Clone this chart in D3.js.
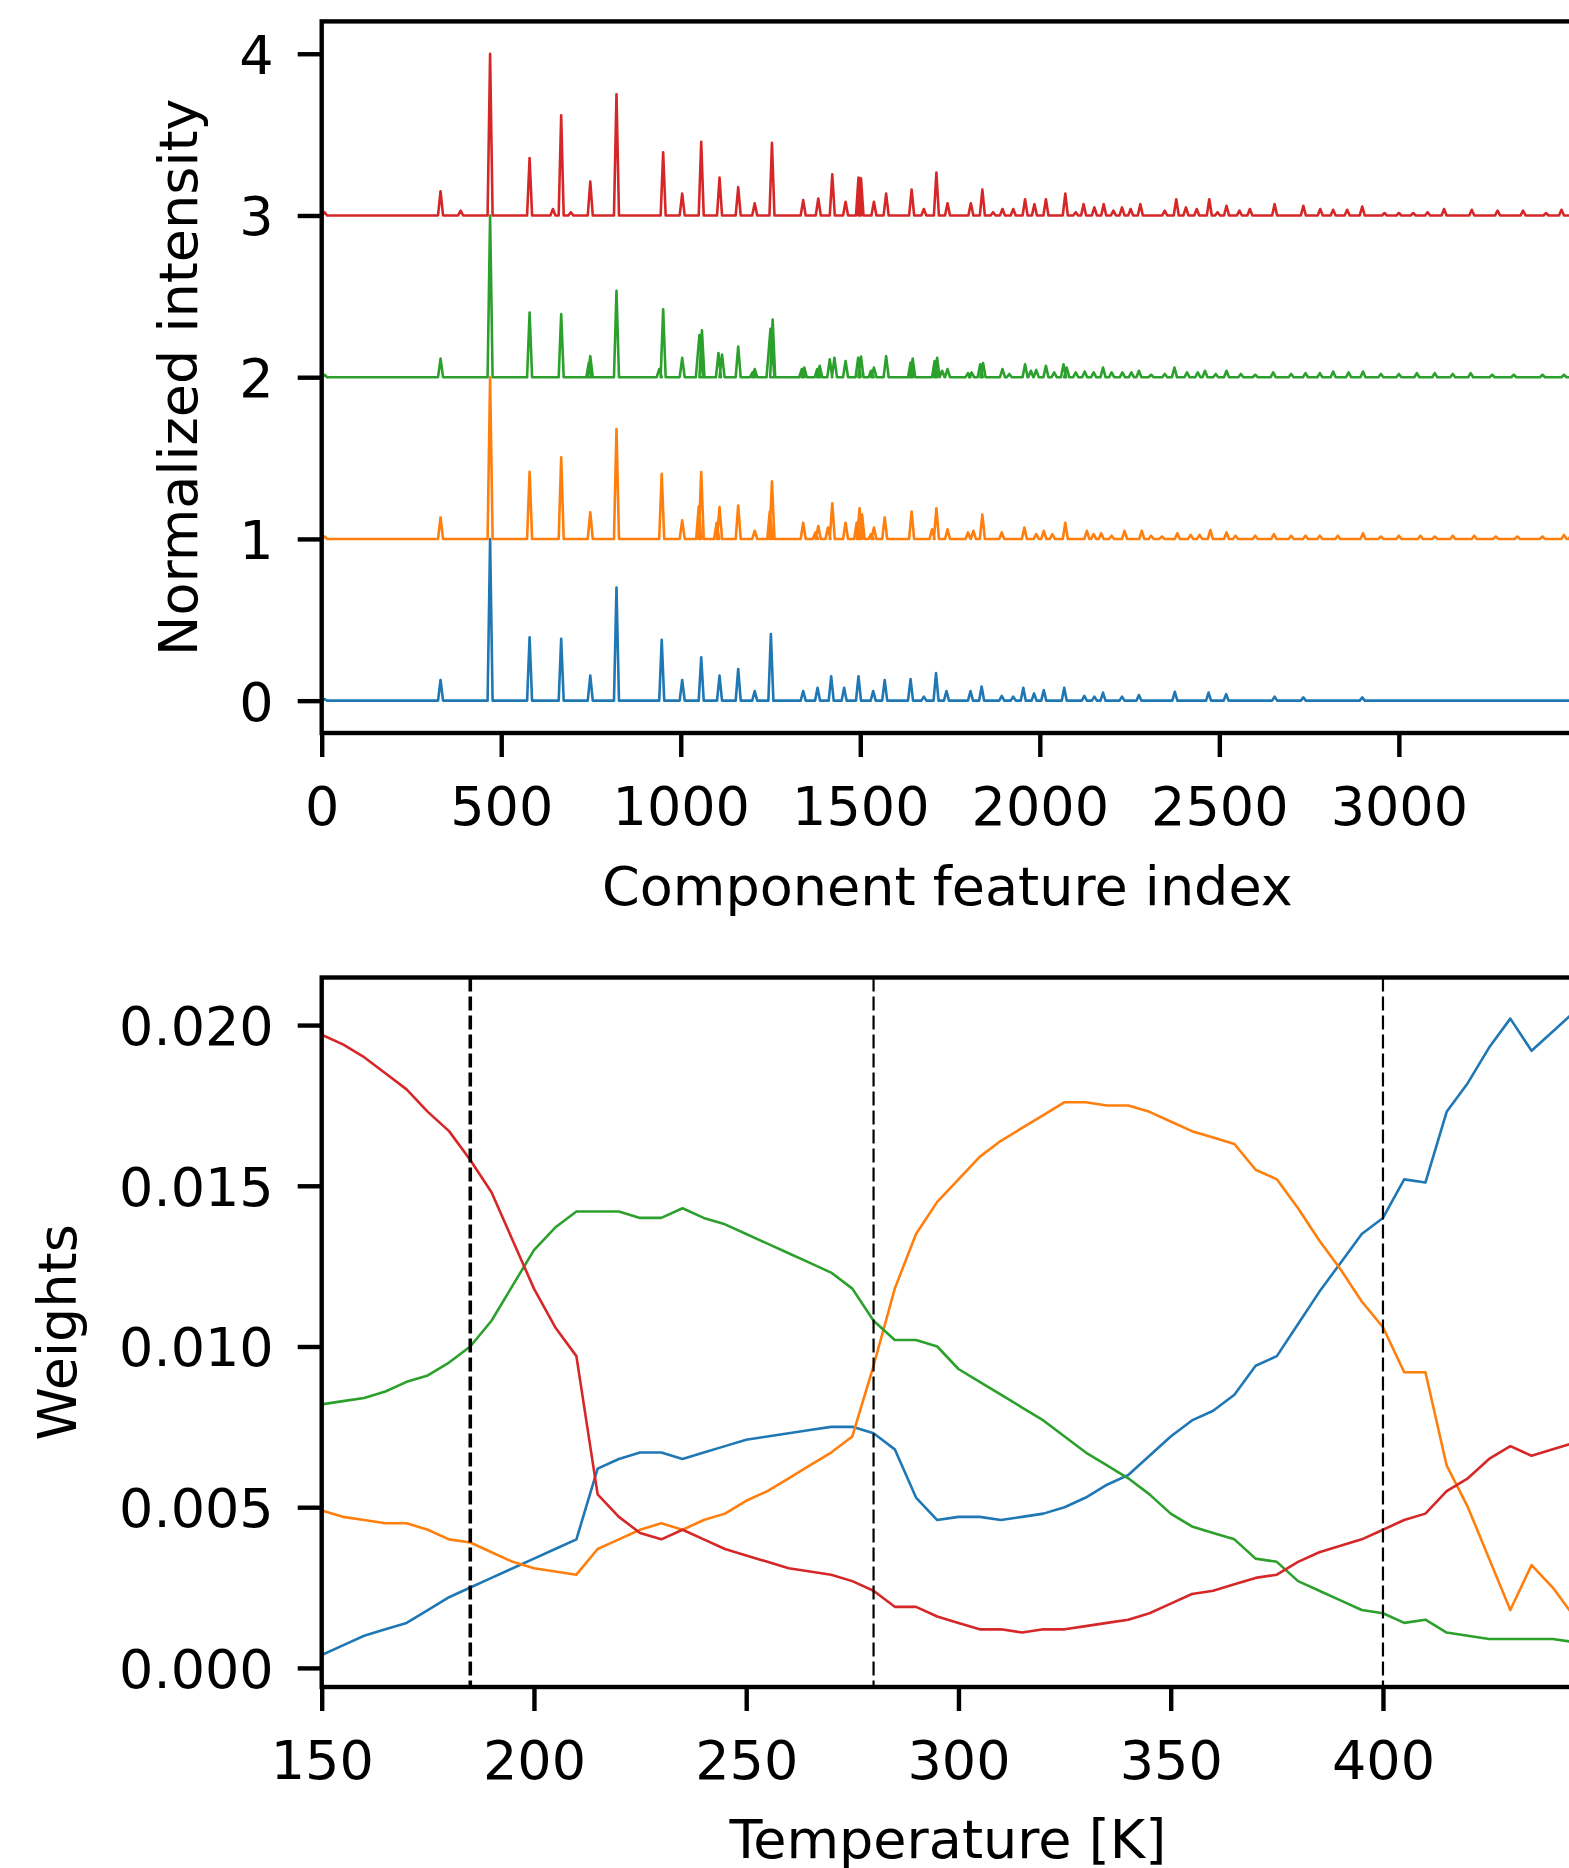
<!DOCTYPE html>
<html>
<head>
<meta charset="utf-8">
<script src="https://cdn.jsdelivr.net/npm/d3@7"></script>
<style>
  body { margin: 0; background: #fff; }
  svg { display: block; font-family: "DejaVu Sans", sans-serif; }
</style>
</head>
<body>
<div id="chart"></div>
<script>
// spectral components: [feature index, normalized height, optional half width]
var bluePeaks = [[8,0.01],[331,0.128],[469,1.0],[579,0.392],[667,0.382],[748,0.155],[821,0.70],[947,0.377],[1004,0.128],
  [1057,0.268],[1108,0.155],[1160,0.196],[1206,0.06],[1251,0.412],[1341,0.06],[1381,0.08],[1419,0.15],[1455,0.08],
  [1495,0.15],[1536,0.06],[1568,0.128],[1640,0.133],[1677,0.025],[1711,0.17],[1740,0.06],[1807,0.06],[1838,0.087],
  [1894,0.03],[1926,0.025],[1954,0.08],[1984,0.045],[2011,0.065],[2068,0.08],[2124,0.03],[2152,0.025],[2176,0.05],
  [2229,0.025],[2276,0.035],[2376,0.055],[2470,0.05],[2519,0.04],[2654,0.025],[2734,0.02],[2898,0.02]];

var orangePeaks = [[8,0.015],[331,0.133],[469,1.0],[579,0.415],[667,0.505],[748,0.165],[821,0.68],[947,0.403],[1004,0.115],
  [1050,0.2],[1057,0.413],[1100,0.1],[1108,0.197],[1160,0.207],[1206,0.05],[1248,0.17],[1254,0.356],[1341,0.1],
  [1375,0.04],[1383,0.08],[1410,0.07],[1422,0.22],[1459,0.1],[1490,0.1],[1498,0.19],[1505,0.15],[1530,0.03],
  [1538,0.07],[1568,0.133],[1643,0.17],[1700,0.06],[1712,0.19],[1743,0.06],[1800,0.04],[1815,0.05],[1840,0.15],
  [1894,0.04],[1957,0.07],[1990,0.03],[2011,0.05],[2035,0.03],[2071,0.1],[2131,0.05],[2150,0.03],[2171,0.035],
  [2200,0.02],[2236,0.05],[2284,0.05],[2310,0.02],[2340,0.015],[2383,0.035],[2420,0.025],[2445,0.025],[2475,0.055],
  [2520,0.04],[2545,0.02],[2600,0.02],[2652,0.03],[2700,0.02],[2740,0.02],[2780,0.02],[2830,0.02],[2900,0.035],
  [2950,0.015],[3000,0.02],[3060,0.02],[3100,0.015],[3150,0.02],[3210,0.02],[3270,0.015],[3330,0.015],[3400,0.015],
  [3460,0.025],[3480,0.025]];

var greenPeaks = [[8,0.015],[331,0.115],[469,1.0],[579,0.4],[667,0.39],[744,0.09],[748,0.13],[821,0.535],[940,0.05],
  [951,0.42],[1004,0.12],[1052,0.26,10],[1059,0.29],[1105,0.15],[1115,0.14],[1160,0.19],[1200,0.03],[1206,0.05],
  [1250,0.3,11],[1256,0.357],[1337,0.05],[1344,0.06],[1380,0.05],[1387,0.07],[1415,0.11],[1428,0.12],[1459,0.1],
  [1494,0.12],[1502,0.128],[1530,0.04],[1538,0.06],[1572,0.13],[1640,0.09],[1646,0.115],[1707,0.1],[1714,0.12],
  [1728,0.04],[1743,0.05],[1800,0.025],[1810,0.03],[1834,0.08],[1842,0.088],[1896,0.05],[1915,0.02],[1959,0.08],
  [1975,0.04],[1990,0.045],[2017,0.07],[2040,0.03],[2066,0.08],[2075,0.06],[2100,0.03],[2125,0.035],[2150,0.03],
  [2176,0.06],[2200,0.03],[2230,0.03],[2255,0.03],[2276,0.04],[2310,0.015],[2348,0.02],[2375,0.06],[2410,0.03],
  [2440,0.03],[2460,0.04],[2490,0.02],[2520,0.04],[2560,0.02],[2600,0.015],[2650,0.03],[2700,0.02],[2740,0.025],
  [2780,0.025],[2817,0.035],[2860,0.03],[2900,0.035],[2950,0.02],[3000,0.02],[3050,0.025],[3100,0.025],[3150,0.02],
  [3200,0.025],[3260,0.015],[3320,0.015],[3400,0.015],[3460,0.015]];

var redPeaks = [[8,0.02],[331,0.15],[387,0.03],[469,1.0],[579,0.355],[644,0.04],[667,0.62],[694,0.02],[748,0.21],
  [821,0.75],[951,0.39],[1004,0.135],[1057,0.455],[1108,0.235],[1160,0.175],[1206,0.075],[1254,0.45],[1341,0.095],
  [1383,0.105],[1422,0.255],[1459,0.085],[1495,0.235],[1502,0.23],[1538,0.085],[1572,0.135],[1643,0.16],[1677,0.04],
  [1712,0.265],[1743,0.075],[1808,0.075],[1840,0.16],[1870,0.02],[1896,0.04],[1926,0.04],[1959,0.1],[1985,0.07],
  [2017,0.1],[2071,0.135],[2100,0.02],[2122,0.07],[2152,0.05],[2178,0.07],[2205,0.03],[2229,0.05],[2253,0.04],
  [2280,0.07],[2348,0.03],[2380,0.1],[2407,0.05],[2437,0.04],[2472,0.1],[2495,0.02],[2520,0.06],[2556,0.03],
  [2585,0.04],[2654,0.07],[2734,0.06],[2781,0.04],[2817,0.035],[2856,0.035],[2898,0.055],[2960,0.015],[3000,0.015],
  [3040,0.015],[3080,0.02],[3126,0.04],[3203,0.035],[3275,0.03],[3346,0.03],[3410,0.015],[3453,0.035]];

var spectrumOffsets = [0, 1, 2, 3];
var featureCount = 3485;
var featureTicks = [0, 500, 1000, 1500, 2000, 2500, 3000];
var intensityTicks = [0, 1, 2, 3, 4];

// weights of each component against temperature
var temperatures = [150,155,160,165,170,175,180,185,190,195,200,205,210,215,220,225,230,235,240,245,
  250,255,260,265,270,275,280,285,290,295,300,305,310,315,320,325,330,335,340,345,
  350,355,360,365,370,375,380,385,390,395,400,405,410,415,420,425,430,435,440,445];
var weightsBlue = [0.0004,0.0007,0.0010,0.0012,0.0014,0.0018,0.0022,0.0025,0.0028,0.0031,0.0034,0.0037,0.0040,0.0062,
  0.0065,0.0067,0.0067,0.0065,0.0067,0.0069,0.0071,0.0072,0.0073,0.0074,0.0075,0.0075,0.0073,0.0068,0.0053,0.0046,
  0.0047,0.0047,0.0046,0.0047,0.0048,0.0050,0.0053,0.0057,0.0060,0.0066,0.0072,0.0077,0.0080,0.0085,0.0094,0.0097,
  0.0107,0.0117,0.0126,0.0135,0.0140,0.0152,0.0151,0.0173,0.0182,0.0193,0.0202,0.0192,0.0198,0.0204];
var weightsOrange = [0.0049,0.0047,0.0046,0.0045,0.0045,0.0043,0.0040,0.0039,0.0036,0.0033,0.0031,0.0030,0.0029,0.0037,
  0.0040,0.0043,0.0045,0.0043,0.0046,0.0048,0.0052,0.0055,0.0059,0.0063,0.0067,0.0072,0.0094,0.0118,0.0135,0.0145,
  0.0152,0.0159,0.0164,0.0168,0.0172,0.0176,0.0176,0.0175,0.0175,0.0173,0.0170,0.0167,0.0165,0.0163,0.0155,0.0152,
  0.0143,0.0133,0.0124,0.0114,0.0106,0.0092,0.0092,0.0063,0.0050,0.0034,0.0018,0.0032,0.0025,0.0016];
var weightsGreen = [0.0082,0.0083,0.0084,0.0086,0.0089,0.0091,0.0095,0.0100,0.0108,0.0119,0.0130,0.0137,0.0142,0.0142,
  0.0142,0.0140,0.0140,0.0143,0.0140,0.0138,0.0135,0.0132,0.0129,0.0126,0.0123,0.0118,0.0108,0.0102,0.0102,0.0100,
  0.0093,0.0089,0.0085,0.0081,0.0077,0.0072,0.0067,0.0063,0.0059,0.0054,0.0048,0.0044,0.0042,0.0040,0.0034,0.0033,
  0.0027,0.0024,0.0021,0.0018,0.0017,0.0014,0.0015,0.0011,0.0010,0.0009,0.0009,0.0009,0.0009,0.0008];
var weightsRed = [0.0197,0.0194,0.0190,0.0185,0.0180,0.0173,0.0167,0.0158,0.0148,0.0133,0.0118,0.0106,0.0097,0.0054,
  0.0047,0.0042,0.0040,0.0043,0.0040,0.0037,0.0035,0.0033,0.0031,0.0030,0.0029,0.0027,0.0024,0.0019,0.0019,0.0016,
  0.0014,0.0012,0.0012,0.0011,0.0012,0.0012,0.0013,0.0014,0.0015,0.0017,0.0020,0.0023,0.0024,0.0026,0.0028,0.0029,
  0.0033,0.0036,0.0038,0.0040,0.0043,0.0046,0.0048,0.0055,0.0059,0.0065,0.0069,0.0066,0.0068,0.0070];
var transitionTemps = [185, 280, 400];
var temperatureTicks = [150, 200, 250, 300, 350, 400];
var weightTicks = [0, 0.005, 0.010, 0.015, 0.020];

var colors = ["#1f77b4", "#ff7f0e", "#2ca02c", "#d62728"];

var width = 1569, height = 1868;
var fontSize = 54;
var tickLen = 24;
var spineWidth = 4.4;
var peakHalfWidth = 7;

var svg = d3.select("#chart").append("svg")
    .attr("width", width)
    .attr("height", height)
    .style("background", "#fff");

svg.append("defs").selectAll("clipPath")
    .data(["clipTop", "clipBottom"]).enter()
    .append("clipPath").attr("id", function(d) { return d; })
    .append("rect");

var styleAxis = function(g) {
    g.select(".domain").remove();
    g.selectAll(".tick line").attr("stroke", "#000").attr("stroke-width", spineWidth);
    g.selectAll(".tick text")
	.attr("fill", "#000")
	.style("font-size", fontSize + "px")
	.style("font-family", "'DejaVu Sans', sans-serif");
};

// ---------- top panel: spectra ----------
var specBox = { left: 321.7, right: 1573, top: 21.4, bottom: 733 };

var xSpec = d3.scaleLinear().domain([0, featureCount]).range([specBox.left, specBox.right]);
var ySpec = d3.scaleLinear().domain([-0.2, 4.2]).range([specBox.bottom, specBox.top]);

d3.select("#clipTop rect")
    .attr("x", specBox.left).attr("y", specBox.top)
    .attr("width", specBox.right - specBox.left).attr("height", specBox.bottom - specBox.top);

var spectrumPoints = function(peaks, offset) {
    var pts = [[0, offset]];
    peaks.slice().sort(function(a, b) { return a[0] - b[0]; }).forEach(function(p) {
	var w = p[2] || peakHalfWidth;
	pts.push([p[0] - w, offset], [p[0], offset + p[1]], [p[0] + w, offset]);
    });
    pts.push([featureCount, offset]);
    return pts;
};

var spectrumLine = d3.line()
    .x(function(d) { return xSpec(d[0]); })
    .y(function(d) { return ySpec(d[1]); });

var spectra = [bluePeaks, orangePeaks, greenPeaks, redPeaks];

svg.append("g")
    .attr("clip-path", "url(#clipTop)")
    .selectAll("path")
    .data(spectra).enter()
    .append("path")
    .attr("d", function(d, i) { return spectrumLine(spectrumPoints(d, spectrumOffsets[i])); })
    .attr("fill", "none")
    .attr("stroke", function(d, i) { return colors[i]; })
    .attr("stroke-width", 2.6)
    .attr("stroke-linejoin", "round");

svg.append("g")
    .attr("transform", "translate(0," + specBox.bottom + ")")
    .call(d3.axisBottom(xSpec).tickValues(featureTicks).tickFormat(d3.format("d"))
	  .tickSize(tickLen).tickSizeOuter(0).tickPadding(30))
    .call(styleAxis);

svg.append("g")
    .attr("transform", "translate(" + specBox.left + ",0)")
    .call(d3.axisLeft(ySpec).tickValues(intensityTicks).tickFormat(d3.format("d"))
	  .tickSize(tickLen).tickSizeOuter(0).tickPadding(24))
    .call(styleAxis)
    .selectAll(".tick text").attr("dy", "0.36em");

svg.append("rect")
    .attr("x", specBox.left).attr("y", specBox.top)
    .attr("width", specBox.right - specBox.left).attr("height", specBox.bottom - specBox.top)
    .attr("fill", "none").attr("stroke", "#000").attr("stroke-width", spineWidth);

svg.append("text")
    .attr("x", (specBox.left + specBox.right) / 2).attr("y", 905)
    .attr("text-anchor", "middle")
    .style("font-size", fontSize + "px")
    .text("Component feature index");

svg.append("text")
    .attr("transform", "translate(197," + (specBox.top + specBox.bottom) / 2 + ") rotate(-90)")
    .attr("text-anchor", "middle")
    .style("font-size", fontSize + "px")
    .text("Normalized intensity");

// ---------- bottom panel: weights ----------
var wBox = { left: 321.7, right: 1574, top: 977.5, bottom: 1687 };

var xW = d3.scaleLinear().domain([150, 445]).range([wBox.left, wBox.right]);
var yW = d3.scaleLinear().domain([-0.000594, 0.02148]).range([wBox.bottom, wBox.top]);

d3.select("#clipBottom rect")
    .attr("x", wBox.left).attr("y", wBox.top)
    .attr("width", wBox.right - wBox.left).attr("height", wBox.bottom - wBox.top);

var weightSeries = [weightsBlue, weightsOrange, weightsGreen, weightsRed];

var weightLine = d3.line()
    .x(function(d, i) { return xW(temperatures[i]); })
    .y(function(d) { return yW(d); });

var plotW = svg.append("g").attr("clip-path", "url(#clipBottom)");

plotW.selectAll(".weight")
    .data(weightSeries).enter()
    .append("path")
    .attr("class", "weight")
    .attr("d", weightLine)
    .attr("fill", "none")
    .attr("stroke", function(d, i) { return colors[i]; })
    .attr("stroke-width", 2.6)
    .attr("stroke-linejoin", "round");

plotW.selectAll(".transition")
    .data(transitionTemps).enter()
    .append("line")
    .attr("class", "transition")
    .attr("x1", function(d) { return xW(d); })
    .attr("x2", function(d) { return xW(d); })
    .attr("y1", wBox.top)
    .attr("y2", wBox.bottom)
    .attr("stroke", "#000")
    .attr("stroke-width", function(d, i) { return i === 0 ? 3.6 : 2.2; })
    .attr("stroke-dasharray", "14,5");

svg.append("g")
    .attr("transform", "translate(0," + wBox.bottom + ")")
    .call(d3.axisBottom(xW).tickValues(temperatureTicks).tickFormat(d3.format("d"))
	  .tickSize(tickLen).tickSizeOuter(0).tickPadding(30))
    .call(styleAxis);

svg.append("g")
    .attr("transform", "translate(" + wBox.left + ",0)")
    .call(d3.axisLeft(yW).tickValues(weightTicks).tickFormat(d3.format(".3f"))
	  .tickSize(tickLen).tickSizeOuter(0).tickPadding(24))
    .call(styleAxis)
    .selectAll(".tick text").attr("dy", "0.36em");

svg.append("rect")
    .attr("x", wBox.left).attr("y", wBox.top)
    .attr("width", wBox.right - wBox.left).attr("height", wBox.bottom - wBox.top)
    .attr("fill", "none").attr("stroke", "#000").attr("stroke-width", spineWidth);

svg.append("text")
    .attr("x", (wBox.left + wBox.right) / 2).attr("y", 1858)
    .attr("text-anchor", "middle")
    .style("font-size", fontSize + "px")
    .text("Temperature [K]");

svg.append("text")
    .attr("transform", "translate(76," + (wBox.top + wBox.bottom) / 2 + ") rotate(-90)")
    .attr("text-anchor", "middle")
    .style("font-size", fontSize + "px")
    .text("Weights");
</script>
</body>
</html>
